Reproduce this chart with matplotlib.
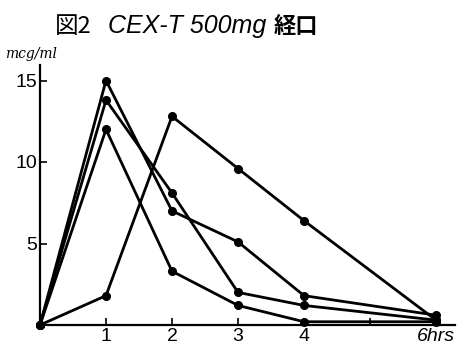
import matplotlib
matplotlib.use('Agg')
import matplotlib.pyplot as plt

# 時間 (hrs) と血中濃度 (mcg/ml)
hours = [0, 1, 2, 3, 4, 6]
case_a = [0, 15.0, 7.0, 5.1, 1.8, 0.6]
case_b = [0, 13.8, 8.1, 2.0, 1.2, 0.3]
case_c = [0, 12.0, 3.3, 1.2, 0.2, 0.2]
case_d = [0, 1.8, 12.8, 9.6, 6.4, 0.3]

xticks = [1, 2, 3, 4, 5, 6]
xlabels = ['1', '2', '3', '4', '', '6hrs']
yticks = [5, 10, 15]

W, H = 473, 349
fig = plt.figure(figsize=(W / 100, H / 100), dpi=100)
ax = fig.add_axes([40 / W, 1 - 325 / H, (455 - 40) / W, (325 - 65) / H])

for s in [case_a, case_b, case_c, case_d]:
    ax.plot(hours, s, color='black', lw=2.0, marker='o', ms=5.5, clip_on=False)

ax.set_xlim(0, (455 - 40) / 66)
ax.set_ylim(0, (325 - 65) / 16.3)
for sp in ['top', 'right']:
    ax.spines[sp].set_visible(False)
for sp in ['left', 'bottom']:
    ax.spines[sp].set_linewidth(1.6)

lab_font = ['Liberation Sans Narrow', 'Liberation Sans', 'DejaVu Sans']
ax.set_xticks(xticks)
ax.set_xticklabels(xlabels, family=lab_font, fontsize=14)
ax.set_yticks(yticks)
ax.set_yticklabels([str(v) for v in yticks], family=lab_font, fontsize=14)
ax.tick_params(direction='in', length=5, width=1.2, pad=2)
for lbl in ax.get_xticklabels():
    if lbl.get_text() == '6hrs':
        lbl.set_style('italic')

# タイトル
fig.text(55 / W, 1 - 33 / H, '図2', family=['Noto Sans CJK JP'], fontsize=17)
fig.text(108 / W, 1 - 33 / H, 'CEX-T 500mg', family=lab_font, style='italic', fontsize=18)
fig.text(274 / W, 1 - 33 / H, '経口', family=['Noto Sans CJK JP'], fontsize=16, weight='bold')
fig.text(5 / W, 1 - 58 / H, 'mcg/ml', family=['DejaVu Serif'], style='italic', fontsize=10)

fig.savefig('out.png', dpi=100)
